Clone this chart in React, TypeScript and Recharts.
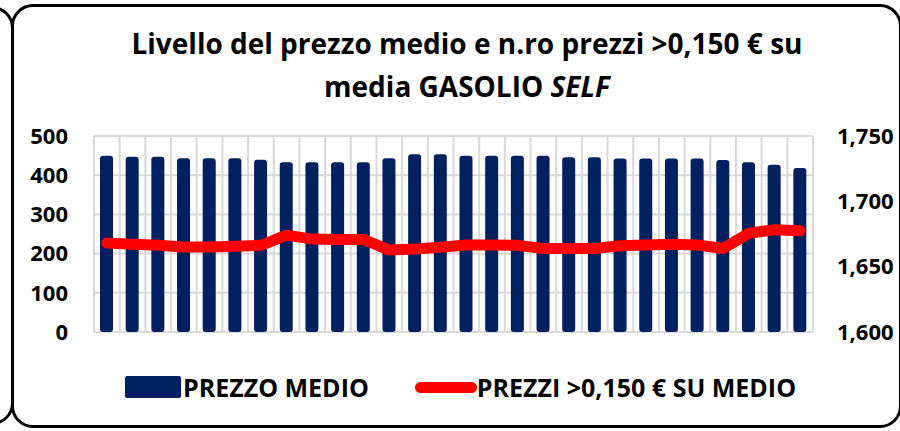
import React from 'react';
import {
  ComposedChart,
  Bar,
  Line,
  XAxis,
  YAxis,
  CartesianGrid
} from 'recharts';

// weekly observations (labels are not shown on the chart)
const settimane = [
  'S1', 'S2', 'S3', 'S4', 'S5', 'S6', 'S7', 'S8', 'S9', 'S10',
  'S11', 'S12', 'S13', 'S14', 'S15', 'S16', 'S17', 'S18', 'S19', 'S20',
  'S21', 'S22', 'S23', 'S24', 'S25', 'S26', 'S27', 'S28'
];

// average self-service diesel price, €/l (right axis)
const prezzoMedio = [
  1.7349, 1.7342, 1.7342, 1.7329, 1.7329, 1.7329, 1.7319, 1.7299, 1.7299, 1.7299,
  1.7299, 1.7329, 1.7360, 1.7360, 1.7349, 1.7349, 1.7349, 1.7349, 1.7337, 1.7337,
  1.7327, 1.7327, 1.7327, 1.7327, 1.7316, 1.7299, 1.7280, 1.7256
];

// number of prices more than 0,150 € above average (left axis)
const prezziSopra = [
  227, 224, 221, 217, 217, 219, 221, 247, 237, 236,
  236, 209, 212, 216, 222, 222, 221, 213, 213, 213,
  220, 222, 224, 222, 213, 252, 261, 258
];

const leftTicks = [0, 100, 200, 300, 400, 500];
const rightTicks = [1.6, 1.65, 1.7, 1.75];

const data = settimane.map((s, i) => ({
  settimana: s,
  prezzo: prezzoMedio[i],
  sopra: prezziSopra[i]
}));

const NAVY = '#002060';
const RED = '#FF0000';
const GRID = '#d9d9d9';
const FONT = '"Open Sans", "Noto Sans", sans-serif';

const tickStyle = { fontFamily: FONT, fontWeight: 700, fontSize: 22, fill: '#000' };

const formatPrezzo = (v: number) => v.toFixed(3).replace('.', ',');

const App: React.FC = () => {
  return (
    <div
      style={{
        position: 'absolute',
        left: 0,
        top: 0,
        width: 900,
        height: 431,
        overflow: 'hidden',
        background: '#fff'
      }}
    >
      {/* edge of the previous panel */}
      <div
        style={{
          position: 'absolute',
          left: -100,
          top: 6,
          width: 114,
          height: 419,
          border: '3px solid #000',
          borderRadius: 22,
          boxSizing: 'border-box'
        }}
      />
      {/* chart frame */}
      <div
        style={{
          position: 'absolute',
          left: 11,
          top: 4,
          width: 891,
          height: 424,
          border: '3px solid #000',
          borderRadius: 22,
          boxSizing: 'border-box'
        }}
      />

      <div
        style={{
          position: 'absolute',
          left: 0,
          top: 22,
          width: 934,
          textAlign: 'center',
          fontFamily: FONT,
          fontWeight: 700,
          fontSize: 28,
          lineHeight: '43px',
          color: '#000'
        }}
      >
        Livello del prezzo medio e n.ro prezzi &gt;0,150 € su
        <br />
        media GASOLIO <i>SELF</i>
      </div>

      <div style={{ position: 'absolute', left: 0, top: 0 }}>
        <ComposedChart
          width={900}
          height={431}
          data={data}
          margin={{ top: 136, right: 0, bottom: 99, left: 0 }}
        >
          <CartesianGrid
            yAxisId="left"
            stroke={GRID}
            strokeWidth={2}
            verticalCoordinatesGenerator={({ offset }: any) =>
              settimane
                .map((_, i) => offset.left + (i * offset.width) / settimane.length)
                .concat(offset.left + offset.width)
            }
          />
          <XAxis dataKey="settimana" hide />
          <YAxis
            yAxisId="left"
            orientation="left"
            width={94}
            domain={[0, 500]}
            ticks={leftTicks}
            axisLine={false}
            tickLine={false}
            tickSize={0}
            tickMargin={26}
            tick={tickStyle}
          />
          <YAxis
            yAxisId="right"
            orientation="right"
            width={87}
            domain={[1.6, 1.75]}
            ticks={rightTicks}
            tickFormatter={formatPrezzo}
            axisLine={false}
            tickLine={false}
            tickSize={0}
            tickMargin={24}
            tick={tickStyle}
          />
          <Bar
            yAxisId="right"
            dataKey="prezzo"
            name="PREZZO MEDIO"
            fill={NAVY}
            barSize={13}
            radius={[3, 3, 3, 3]}
            isAnimationActive={false}
          />
          <Line
            yAxisId="left"
            type="linear"
            dataKey="sopra"
            name="PREZZI >0,150 € SU MEDIO"
            stroke={RED}
            strokeWidth={11}
            strokeLinecap="round"
            strokeLinejoin="round"
            dot={false}
            activeDot={false}
            isAnimationActive={false}
          />
        </ComposedChart>
      </div>

      {/* legend */}
      <div
        style={{
          position: 'absolute',
          left: 125,
          top: 370,
          height: 34,
          display: 'flex',
          alignItems: 'center',
          fontFamily: FONT,
          fontWeight: 700,
          fontSize: 25,
          color: '#000',
          whiteSpace: 'nowrap'
        }}
      >
        <div style={{ width: 56, height: 22, background: NAVY, borderRadius: 2 }} />
        <span style={{ marginLeft: 2 }}>PREZZO MEDIO</span>
        <div style={{ width: 62, height: 11, background: RED, borderRadius: 6, marginLeft: 46 }} />
        <span>PREZZI &gt;0,150 € SU MEDIO</span>
      </div>
    </div>
  );
};

export default App;
